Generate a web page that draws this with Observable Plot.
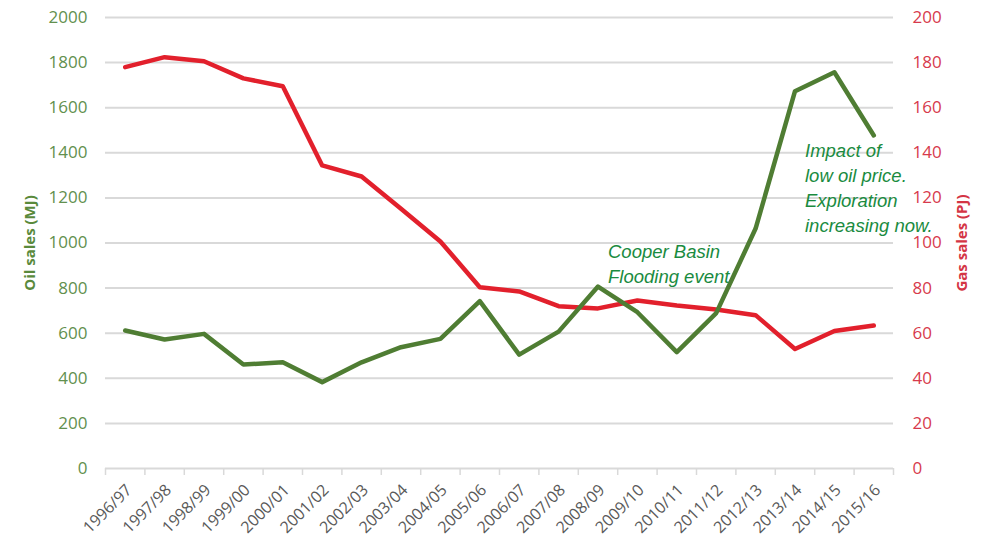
<!DOCTYPE html>
<html>
<head>
<meta charset="utf-8">
<script src="https://cdn.jsdelivr.net/npm/d3@7"></script>
<script src="https://cdn.jsdelivr.net/npm/@observablehq/plot@0.6"></script>
<style>
  html, body { margin: 0; padding: 0; background: #fff; }
  #chart { width: 983px; height: 542px; }
</style>
</head>
<body>
<div id="chart"></div>
<script>
const categories = ["1996/97","1997/98","1998/99","1999/00","2000/01","2001/02","2002/03","2003/04","2004/05","2005/06","2006/07","2007/08","2008/09","2009/10","2010/11","2011/12","2012/13","2013/14","2014/15","2015/16"];
const oilSales = [612, 572, 597, 461, 471, 383, 471, 538, 575, 742, 505, 607, 807, 693, 516, 689, 1064, 1673, 1757, 1477];
const gasSales = [178, 182.4, 180.6, 173, 169.5, 134.4, 129.5, 115.2, 100.7, 80.4, 78.5, 72, 71, 74.5, 72.3, 70.5, 68, 53, 61, 63.4];
const oilTicks = [0, 200, 400, 600, 800, 1000, 1200, 1400, 1600, 1800, 2000];
const gasPerOilUnit = 0.1; // right axis: 0..200 PJ against 0..2000 MJ
const notes = [
  {cat: "2008/09", value: 1010, text: "Cooper Basin\nFlooding event"},
  {cat: "2013/14", value: 1461, text: "Impact of\nlow oil price.\nExploration\nincreasing now."}
];

const oilRows = categories.map((c, i) => ({i, value: oilSales[i]}));
const gasRows = categories.map((c, i) => ({i, value: gasSales[i] / gasPerOilUnit}));
const noteRows = notes.map(n => ({i: categories.indexOf(n.cat), value: n.value, text: n.text}));
const boundaries = d3.range(-0.5, categories.length, 1);

const GREEN = "#4f7d33", RED = "#e2202c", GRID = "#d9d9d9";
const font = "'Open Sans', 'Liberation Sans', sans-serif";

const chart = Plot.plot({
  width: 983,
  height: 542,
  marginTop: 17,
  marginBottom: 74,
  marginLeft: 105,
  marginRight: 90,
  style: {fontFamily: font, background: "#fff", overflow: "visible"},
  x: {type: "linear", domain: [-0.5, categories.length - 0.5]},
  y: {domain: [0, 2000]},
  marks: [
    Plot.ruleY(oilTicks, {stroke: GRID, strokeWidth: 2}),
    Plot.axisX({ticks: boundaries, tickFormat: () => "", tickSize: 7, stroke: GRID, strokeWidth: 1.5, label: null}),
    Plot.axisX({ticks: d3.range(categories.length), tickFormat: i => categories[i], tickSize: 0, tickPadding: 19, tickRotate: -45, dx: 4, fontSize: 16, fill: "#595959", label: null}),
    Plot.axisY({ticks: oilTicks, tickFormat: d => String(d), tickSize: 0, tickPadding: 18, fontSize: 17, fill: "#62904e", label: null}),
    Plot.axisY({anchor: "right", ticks: oilTicks, tickFormat: d => String(d * gasPerOilUnit), tickSize: 0, tickPadding: 19, fontSize: 17, fill: "#d73a4c", label: null}),
    Plot.text(["Oil sales (MJ)"], {frameAnchor: "left", textAnchor: "middle", rotate: -90, dx: -75, fontSize: 15, fontWeight: "bold", fill: "#5a8a3c"}),
    Plot.text(["Gas sales (PJ)"], {frameAnchor: "right", textAnchor: "middle", rotate: -90, dx: 69, fontSize: 15, fontWeight: "bold", fill: "#d43545"}),
    Plot.line(gasRows, {x: "i", y: "value", stroke: RED, strokeWidth: 4.5, strokeLinejoin: "round", strokeLinecap: "round"}),
    Plot.line(oilRows, {x: "i", y: "value", stroke: GREEN, strokeWidth: 4.5, strokeLinejoin: "round", strokeLinecap: "round"}),
    Plot.text(noteRows, {x: "i", y: "value", text: "text", dx: 10, textAnchor: "start", lineAnchor: "top", lineHeight: 1.35, fontSize: 18.5, fontStyle: "italic", fontFamily: "'Liberation Sans', Arial, sans-serif", fill: "#1a8b3f"})
  ]
});
document.getElementById("chart").appendChild(chart);
</script>
</body>
</html>
